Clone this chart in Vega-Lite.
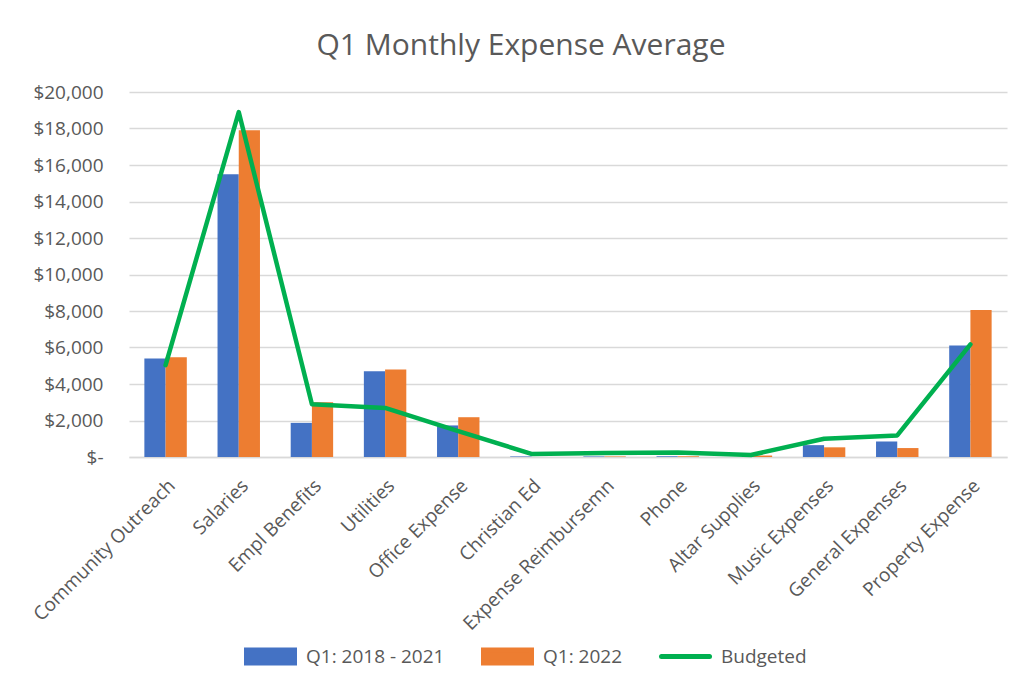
{
  "$schema": "https://vega.github.io/schema/vega-lite/v6.json",
  "width": 878,
  "height": 365,
  "autosize": {"type": "none"},
  "padding": {"left": 129, "top": 92, "right": 19, "bottom": 225},
  "background": "white",
  "title": {"text": "Q1 Monthly Expense Average", "fontSize": 30, "font": "Open Sans", "fontWeight": "normal", "color": "#595959", "anchor": "middle", "dx": -47, "offset": 22},
  "config": {
    "view": {"stroke": null},
    "axis": {"labelFont": "Open Sans", "labelColor": "#595959", "labelFontSize": 19, "title": null, "ticks": false, "labelLimit": 400}
  },
  "datasets": {
    "bars": [
      {"category": "Community Outreach", "series": "Q1: 2018 - 2021", "value": 5400},
      {"category": "Community Outreach", "series": "Q1: 2022", "value": 5470},
      {"category": "Salaries", "series": "Q1: 2018 - 2021", "value": 15500},
      {"category": "Salaries", "series": "Q1: 2022", "value": 17900},
      {"category": "Empl Benefits", "series": "Q1: 2018 - 2021", "value": 1870},
      {"category": "Empl Benefits", "series": "Q1: 2022", "value": 3000},
      {"category": "Utilities", "series": "Q1: 2018 - 2021", "value": 4700},
      {"category": "Utilities", "series": "Q1: 2022", "value": 4800},
      {"category": "Office Expense", "series": "Q1: 2018 - 2021", "value": 1730},
      {"category": "Office Expense", "series": "Q1: 2022", "value": 2180},
      {"category": "Christian Ed", "series": "Q1: 2018 - 2021", "value": 30},
      {"category": "Christian Ed", "series": "Q1: 2022", "value": 0},
      {"category": "Expense Reimbursemn", "series": "Q1: 2018 - 2021", "value": 30},
      {"category": "Expense Reimbursemn", "series": "Q1: 2022", "value": 30},
      {"category": "Phone", "series": "Q1: 2018 - 2021", "value": 40},
      {"category": "Phone", "series": "Q1: 2022", "value": 40},
      {"category": "Altar Supplies", "series": "Q1: 2018 - 2021", "value": 0},
      {"category": "Altar Supplies", "series": "Q1: 2022", "value": 80},
      {"category": "Music Expenses", "series": "Q1: 2018 - 2021", "value": 650},
      {"category": "Music Expenses", "series": "Q1: 2022", "value": 530},
      {"category": "General Expenses", "series": "Q1: 2018 - 2021", "value": 850},
      {"category": "General Expenses", "series": "Q1: 2022", "value": 490},
      {"category": "Property Expense", "series": "Q1: 2018 - 2021", "value": 6110},
      {"category": "Property Expense", "series": "Q1: 2022", "value": 8050}
    ],
    "budget": [
      {"category": "Community Outreach", "value": 5030},
      {"category": "Salaries", "value": 18900},
      {"category": "Empl Benefits", "value": 2890},
      {"category": "Utilities", "value": 2690},
      {"category": "Office Expense", "value": 1420},
      {"category": "Christian Ed", "value": 170},
      {"category": "Expense Reimbursemn", "value": 220},
      {"category": "Phone", "value": 250},
      {"category": "Altar Supplies", "value": 110},
      {"category": "Music Expenses", "value": 1000},
      {"category": "General Expenses", "value": 1180},
      {"category": "Property Expense", "value": 6170}
    ]
  },
  "encoding": {
    "x": {
      "field": "category", "type": "nominal",
      "scale": {"domain": ["Community Outreach", "Salaries", "Empl Benefits", "Utilities", "Office Expense", "Christian Ed", "Expense Reimbursemn", "Phone", "Altar Supplies", "Music Expenses", "General Expenses", "Property Expense"], "paddingInner": 0.42, "paddingOuter": 0.21},
      "axis": {"labelAngle": -45, "domainColor": "#D9D9D9", "domainWidth": 1.5, "labelPadding": 19}
    },
    "y": {
      "field": "value", "type": "quantitative",
      "scale": {"domain": [0, 20000], "nice": false},
      "axis": {
        "tickCount": 10, "tickMinStep": 2000, "labelOverlap": false, "labelSeparation": 0,
        "labelExpr": "datum.value == 0 ? '$-' : '$' + format(datum.value, ',')",
        "domain": false, "grid": true, "gridColor": "#D9D9D9", "gridWidth": 1.5, "labelPadding": 26,
        "encode": {"labels": {"update": {"dx": {"signal": "datum.value == 0 ? -35 : 0"}}}}
      }
    }
  },
  "layer": [
    {
      "data": {"name": "bars"},
      "mark": {"type": "bar"},
      "encoding": {
        "xOffset": {"field": "series", "type": "nominal", "scale": {"domain": ["Q1: 2018 - 2021", "Q1: 2022"]}},
        "color": {
          "field": "series", "type": "nominal",
          "scale": {"domain": ["Q1: 2018 - 2021", "Q1: 2022", "Budgeted"], "range": ["#4472C4", "#ED7D31", "#00B050"]},
          "legend": {
            "title": null, "orient": "none", "direction": "horizontal", "legendX": 115, "legendY": 538,
            "labelFont": "Open Sans", "labelFontSize": 19, "labelColor": "#595959",
            "symbolSize": 2304, "labelOffset": 9, "columnPadding": 28, "padding": 0,
            "encode": {"symbols": {"update": {
              "shape": {"signal": "datum.value === 'Budgeted' ? 'M-1,-0.27M-1,0H1M1,0.27' : 'M-1,-0.27H1V0.27H-1Z'"},
              "stroke": {"signal": "datum.value === 'Budgeted' ? '#00B050' : 'transparent'"},
              "strokeWidth": {"value": 5},
              "strokeCap": {"value": "round"},
              "opacity": {"value": 1}
            }}}
          }
        }
      }
    },
    {
      "data": {"name": "budget"},
      "mark": {"type": "line", "strokeWidth": 4.5, "strokeCap": "round", "strokeJoin": "round"},
      "encoding": {
        "color": {"datum": "Budgeted"}
      }
    }
  ]
}
